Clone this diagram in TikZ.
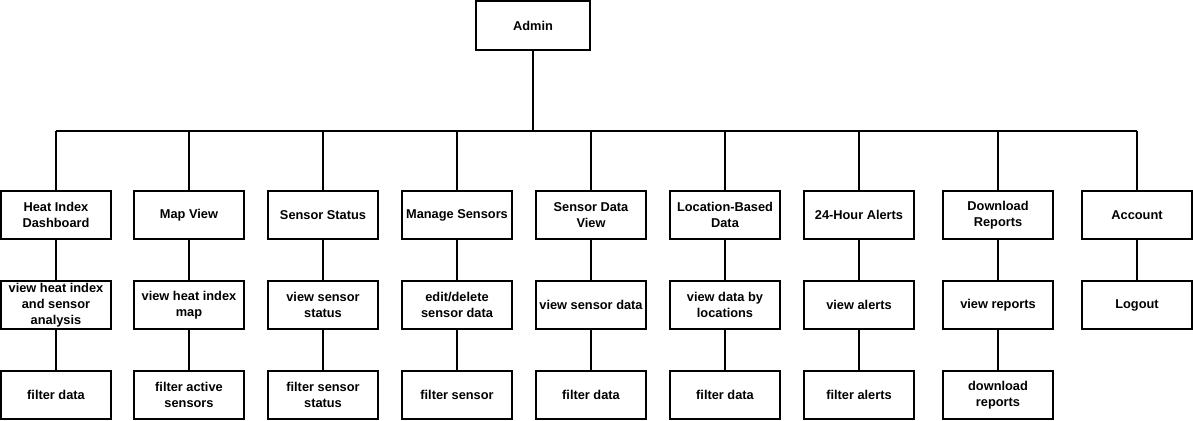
\documentclass[tikz,border=0pt]{standalone}
\usepackage{fontspec}
\setmainfont{Liberation Sans}
\begin{document}
\begin{tikzpicture}[x=1pt,y=-1pt,
  box/.style={draw=black,line width=2pt,fill=white,minimum width=110pt,minimum height=48pt,
    inner sep=1pt,align=center,font=\bfseries\fontsize{12.8}{16}\selectfont},
  link/.style={draw=black,line width=2pt}]
\useasboundingbox (0,0) rectangle (1193,420);
\node[box,minimum width=114pt,minimum height=49pt] (admin) at (533,25.5) {Admin};
\coordinate (bus) at (0,131);
% row 1
\node[box] (a1) at (56,215) {Heat Index\\Dashboard};
\node[box] (b1) at (189,215) {Map View};
\node[box] (c1) at (323,215) {Sensor Status};
\node[box] (d1) at (457,215) {Manage Sensors};
\node[box] (e1) at (591,215) {Sensor Data\\View};
\node[box] (f1) at (725,215) {Location-Based\\Data};
\node[box] (g1) at (859,215) {24-Hour Alerts};
\node[box] (h1) at (998,215) {Download\\Reports};
\node[box] (i1) at (1137,215) {Account};
% row 2
\node[box] (a2) at (56,305) {view heat index\\and sensor\\analysis};
\node[box] (b2) at (189,305) {view heat index\\map};
\node[box] (c2) at (323,305) {view sensor\\status};
\node[box] (d2) at (457,305) {edit/delete\\sensor data};
\node[box] (e2) at (591,305) {view sensor data};
\node[box] (f2) at (725,305) {view data by\\locations};
\node[box] (g2) at (859,305) {view alerts};
\node[box] (h2) at (998,305) {view reports};
\node[box] (i2) at (1137,305) {Logout};
% row 3
\node[box] (a3) at (56,395) {filter data};
\node[box] (b3) at (189,395) {filter active\\sensors};
\node[box] (c3) at (323,395) {filter sensor\\status};
\node[box] (d3) at (457,395) {filter sensor};
\node[box] (e3) at (591,395) {filter data};
\node[box] (f3) at (725,395) {filter data};
\node[box] (g3) at (859,395) {filter alerts};
\node[box] (h3) at (998,395) {download\\reports};
% connectors
\draw[link] (admin.south) -- (admin.south |- bus);
\draw[link] (a1.north |- bus) -- (i1.north |- bus);
\foreach \n in {a,b,c,d,e,f,g,h,i}{
  \draw[link] (\n1.north) -- (\n1.north |- bus);
  \draw[link] (\n1.south) -- (\n2.north);
}
\foreach \n in {a,b,c,d,e,f,g,h}{
  \draw[link] (\n2.south) -- (\n3.north);
}
\end{tikzpicture}
\end{document}
